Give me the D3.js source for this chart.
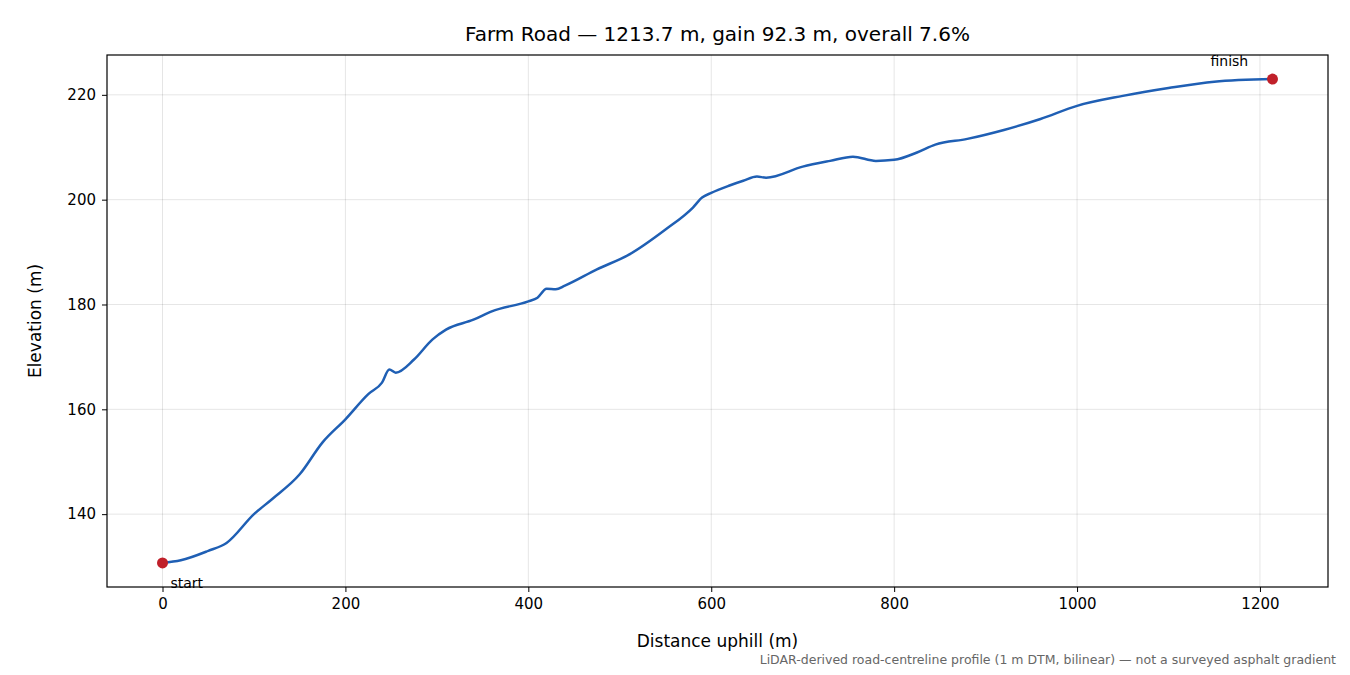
<!DOCTYPE html>
<html><head><meta charset="utf-8">
<script src="https://cdn.jsdelivr.net/npm/d3@7"></script>
<style>body{margin:0;background:#fff;font-family:"DejaVu Sans",sans-serif}</style>
</head><body><svg id="chart" width="1350" height="675"></svg>
<script>
var distance = [0,20,50,70,100,120,150,175,200,225,240,248,255,275,295,310,340,360,400,410,420,430,440,475,510,550,580,590,600,620,635,650,660,700,730,755,780,800,825,845,880,920,960,1000,1050,1100,1150,1213.7];
var elevation = [130.7,131.2,133,134.5,140,142.9,147.6,153.7,158.1,162.9,165.1,167.6,167.0,169.5,173.3,175.2,177.1,178.7,180.6,181.3,183,182.9,183.6,186.7,189.5,194.3,198.5,200.4,201.3,202.7,203.6,204.4,204.2,206.3,207.4,208.2,207.4,207.6,209,210.5,211.6,213.3,215.4,217.9,219.8,221.3,222.5,223];
var xTicks = [0,200,400,600,800,1000,1200];
var yTicks = [140,160,180,200,220];

var svg = d3.select('#chart');
var L = 107, R = 1328, T = 55, B = 587;
var x = d3.scaleLinear().domain([-60.7, 1274.4]).range([L, R]);
var y = d3.scaleLinear().domain([126.1, 227.6]).range([B, T]);

// grid
svg.append('g').selectAll('line').data(xTicks).enter().append('line')
  .attr('x1', d => x(d)).attr('x2', d => x(d)).attr('y1', T).attr('y2', B)
  .attr('stroke', '#000').attr('stroke-opacity', 0.1);
svg.append('g').selectAll('line').data(yTicks).enter().append('line')
  .attr('y1', d => y(d)).attr('y2', d => y(d)).attr('x1', L).attr('x2', R)
  .attr('stroke', '#000').attr('stroke-opacity', 0.1);

var xAxis = svg.append('g').attr('transform', 'translate(0,' + B + ')')
  .call(d3.axisBottom(x).tickValues(xTicks).tickSize(5).tickPadding(6).tickFormat(d3.format('d')));
var yAxis = svg.append('g').attr('transform', 'translate(' + L + ',0)')
  .call(d3.axisLeft(y).tickValues(yTicks).tickSize(5).tickPadding(6));
[xAxis, yAxis].forEach(a => {
  a.select('.domain').remove();
  a.selectAll('text').attr('font-size', 15).attr('font-family', 'DejaVu Sans').attr('fill', '#000');
});
svg.append('rect').attr('x', L).attr('y', T).attr('width', R - L).attr('height', B - T)
  .attr('fill', 'none').attr('stroke', '#000').attr('stroke-width', 1.2);

var pts = distance.map((d, i) => [d, elevation[i]]);
svg.append('path').datum(pts)
  .attr('d', d3.line().x(d => x(d[0])).y(d => y(d[1])).curve(d3.curveMonotoneX))
  .attr('fill', 'none').attr('stroke', '#1f5fb4').attr('stroke-width', 2.5);

var ends = [pts[0], pts[pts.length - 1]];
svg.selectAll('circle').data(ends).enter().append('circle')
  .attr('cx', d => x(d[0])).attr('cy', d => y(d[1])).attr('r', 5.5).attr('fill', '#c0202a');
svg.append('text').attr('x', x(0) + 8).attr('y', y(elevation[0]) + 25).attr('font-size', 14).text('start');
svg.append('text').attr('x', x(1213.7) - 62).attr('y', y(223) - 13).attr('font-size', 14).text('finish');

svg.append('text').attr('x', (L + R) / 2).attr('y', 41).attr('text-anchor', 'middle').attr('font-size', 20)
  .text('Farm Road — 1213.7 m, gain 92.3 m, overall 7.6%');
svg.append('text').attr('x', (L + R) / 2).attr('y', 647).attr('text-anchor', 'middle').attr('font-size', 17)
  .text('Distance uphill (m)');
svg.append('text').attr('transform', 'translate(41,' + (T + B) / 2 + ') rotate(-90)').attr('text-anchor', 'middle').attr('font-size', 17)
  .text('Elevation (m)');
svg.append('text').attr('x', 1336).attr('y', 664).attr('text-anchor', 'end').attr('font-size', 12.5).attr('fill', '#666')
  .text('LiDAR-derived road-centreline profile (1 m DTM, bilinear) — not a surveyed asphalt gradient');
</script></body></html>
